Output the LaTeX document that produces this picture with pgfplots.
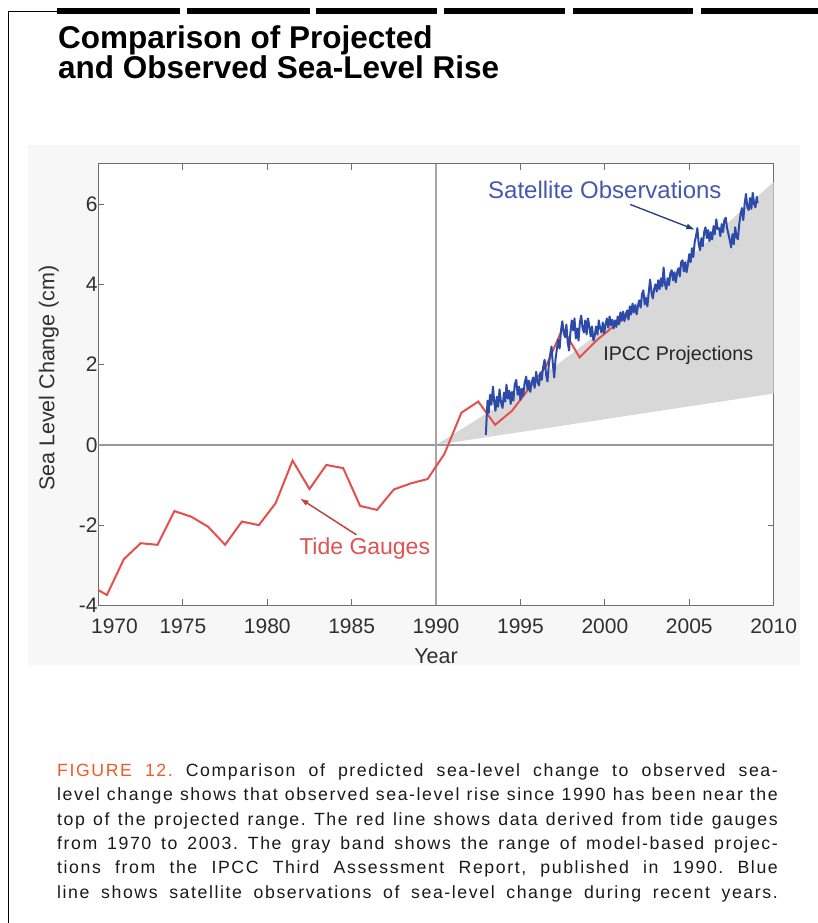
\documentclass[border=0pt]{standalone}
\usepackage{fontspec}
\setmainfont{Liberation Sans}
\newfontfamily\capfont[LetterSpace=9]{Liberation Sans}
\usepackage{pgfplots}
\pgfplotsset{compat=1.18}
\usetikzlibrary{arrows.meta}
\definecolor{tidered}{HTML}{E4504C}
\definecolor{tidetext}{HTML}{E05252}
\definecolor{satblue}{HTML}{2C4AA8}
\definecolor{sattext}{HTML}{4558B0}
\definecolor{satarrow}{HTML}{253C78}
\definecolor{band}{HTML}{D8D8D8}
\definecolor{panel}{HTML}{F7F7F7}
\definecolor{figorange}{HTML}{EF5A2A}
\definecolor{frame}{HTML}{6E6E6E}
\definecolor{ticktext}{HTML}{303030}

\begin{document}
\frenchspacing
\begin{tikzpicture}[x=1pt,y=1pt]
% page size 818 x 923
\path (0,0) rectangle (818,923);
% header bars and page rule
\fill[black] (57,909) rectangle (180,915);
\fill[black] (187,909) rectangle (310,915);
\fill[black] (316,909) rectangle (437,915);
\fill[black] (444,909) rectangle (565,915);
\fill[black] (573,909) rectangle (693,915);
\fill[black] (701,909) rectangle (818,915);
\draw[line width=0.8pt] (8.5,0) -- (8.5,912) -- (57,912);
% light panel behind the chart
\fill[panel] (28,258) rectangle (800,778);
% title
\node[anchor=base west, inner sep=0pt, font=\fontsize{31.5}{31.5}\selectfont\bfseries] at (58,874.5) {Comparison of Projected};
\node[anchor=base west, inner sep=0pt, font=\fontsize{31.5}{31.5}\selectfont\bfseries] at (58,844) {and Observed Sea-Level Rise};

\begin{axis}[
  at={(98.5pt,317.3pt)}, anchor=south west,
  scale only axis, width=675.5pt, height=441.7pt,
  xmin=1970, xmax=2010, ymin=-4, ymax=7,
  xtick={1970,1975,...,2010},
  xticklabels={\hspace*{32pt}1970,1975,1980,1985,1990,1995,2000,2005,2010},
  ytick={-4,-2,0,2,4,6},
  tick align=inside, tick pos=both, ticklabel pos=left,
  major tick length=6pt,
  axis line style={frame, line width=1.1pt},
  every tick/.style={frame, line width=1pt},
  /pgf/number format/assume math mode=true,
  tick label style={font=\fontsize{21}{21}\selectfont, text=ticktext},
  xticklabel style={yshift=-10pt},
  yticklabel style={xshift=2.6pt},
  xlabel={Year}, ylabel={Sea Level Change (cm)},
  every axis x label/.style={at={(axis description cs:0.5,-0.116)}, anchor=center,
    font=\fontsize{21.5}{21.5}\selectfont, text=ticktext},
  every axis y label/.style={at={(axis description cs:-0.0735,0.515)}, anchor=center, rotate=90,
    font=\fontsize{21.5}{21.5}\selectfont, text=ticktext},
  axis background/.style={fill=white},
]
% IPCC projection range
\addplot[fill=band, draw=none] coordinates {
  (1990,0) (1992,0.52) (1994,1.06) (1996,1.64) (1998,2.26) (2000,2.9)
  (2002,3.58) (2004,4.28) (2006,5.04) (2008,5.8) (2010,6.55)
  (2010,1.28) (2000,0.64) (1990,0)
} -- cycle;
% reference lines
\addplot[draw=black!40, line width=1.3pt] coordinates {(1970,0) (2010,0)};
\addplot[draw=black!35, line width=1.3pt] coordinates {(1990,-4) (1990,7)};
% tide gauges
\addplot[tidered, line width=2pt] coordinates {
  (1969.5,-3.50) (1970.5,-3.74) (1971.5,-2.85) (1972.5,-2.45) (1973.5,-2.49)
  (1974.5,-1.65) (1975.5,-1.79) (1976.5,-2.04) (1977.5,-2.49) (1978.5,-1.91)
  (1979.5,-2.00) (1980.5,-1.45) (1981.5,-0.39) (1982.5,-1.10) (1983.5,-0.50)
  (1984.5,-0.58) (1985.5,-1.52) (1986.5,-1.62) (1987.5,-1.11) (1988.5,-0.96)
  (1989.5,-0.85) (1990.5,-0.22) (1991.5,0.80) (1992.5,1.08) (1993.5,0.50)
  (1994.5,0.85) (1995.5,1.40) (1996.5,1.95) (1997.5,2.90) (1998.5,2.18)
  (1999.5,2.60) (2000.5,2.95) (2001.5,3.25)
};
% satellite observations
\addplot[satblue, line width=2pt, line join=round] coordinates {
  (1992.95,0.25) (1993.00,0.70) (1993.05,1.10) (1993.12,0.80) (1993.20,1.25)
  (1993.28,1.00) (1993.37,1.45) (1993.45,1.05) (1993.52,0.85) (1993.60,1.20)
  (1993.68,0.95) (1993.76,1.38) (1993.85,1.05) (1993.94,0.92) (1994.02,1.30)
  (1994.10,1.08) (1994.17,1.50) (1994.25,1.15) (1994.34,1.35) (1994.42,1.02)
  (1994.50,1.32) (1994.58,1.10) (1994.66,1.50) (1994.75,1.62) (1994.83,1.25)
  (1994.92,1.45) (1995.00,1.12) (1995.08,1.40) (1995.16,1.22) (1995.25,1.55)
  (1995.34,1.70) (1995.42,1.38) (1995.50,1.60) (1995.58,1.32) (1995.66,1.55)
  (1995.75,1.68) (1995.84,1.42) (1995.93,1.82) (1996.02,1.55) (1996.10,1.48)
  (1996.18,1.80) (1996.26,1.62) (1996.35,1.95) (1996.43,2.12) (1996.52,1.75)
  (1996.60,1.58) (1996.68,2.00) (1996.76,2.25) (1996.84,2.45) (1996.92,2.00)
  (1997.00,1.68) (1997.08,2.15) (1997.16,2.40) (1997.24,2.62) (1997.32,2.40)
  (1997.40,2.85) (1997.48,3.08) (1997.56,2.80) (1997.64,2.68) (1997.72,3.00)
  (1997.80,2.55) (1997.88,2.35) (1997.96,2.80) (1998.04,3.10) (1998.12,2.85)
  (1998.20,3.15) (1998.28,2.65) (1998.36,2.90) (1998.44,2.60) (1998.52,3.05)
  (1998.60,3.22) (1998.68,2.90) (1998.76,2.80) (1998.84,3.10) (1998.92,2.75)
  (1999.00,3.15) (1999.08,2.95) (1999.16,2.70) (1999.24,2.95) (1999.32,2.60)
  (1999.40,2.72) (1999.48,2.95) (1999.56,2.75) (1999.64,3.10) (1999.72,2.90)
  (1999.80,2.80) (1999.88,3.05) (1999.96,2.78) (2000.04,3.00) (2000.12,3.15)
  (2000.20,2.92) (2000.28,3.20) (2000.36,2.98) (2000.44,3.12) (2000.52,2.90)
  (2000.60,3.10) (2000.68,2.94) (2000.76,3.20) (2000.84,3.00) (2000.92,3.30)
  (2001.00,3.10) (2001.08,3.32) (2001.16,3.08) (2001.24,3.25) (2001.32,3.35)
  (2001.40,3.12) (2001.48,3.45) (2001.56,3.25) (2001.64,3.52) (2001.72,3.30)
  (2001.80,3.48) (2001.88,3.25) (2001.96,3.46) (2002.04,3.60) (2002.12,3.42)
  (2002.20,3.75) (2002.28,3.85) (2002.36,3.50) (2002.44,3.66) (2002.52,3.45)
  (2002.60,3.80) (2002.68,4.12) (2002.76,3.80) (2002.84,3.65) (2002.92,3.88)
  (2003.00,4.00) (2003.08,3.82) (2003.16,4.10) (2003.24,3.88) (2003.32,4.15)
  (2003.40,3.95) (2003.48,4.42) (2003.56,4.00) (2003.64,3.88) (2003.72,4.15)
  (2003.80,3.98) (2003.88,4.28) (2003.96,4.35) (2004.04,4.10) (2004.12,4.30)
  (2004.20,4.05) (2004.28,4.28) (2004.36,4.40) (2004.44,4.20) (2004.52,4.55)
  (2004.60,4.60) (2004.68,4.32) (2004.76,4.55) (2004.84,4.30) (2004.92,4.50)
  (2005.00,4.75) (2005.08,4.55) (2005.16,4.90) (2005.24,4.68) (2005.32,5.05)
  (2005.40,5.20) (2005.48,5.40) (2005.56,5.00) (2005.64,4.85) (2005.72,5.15)
  (2005.80,4.95) (2005.88,5.30) (2005.96,5.42) (2006.04,5.15) (2006.12,5.35)
  (2006.20,5.08) (2006.28,5.30) (2006.36,5.12) (2006.44,5.45) (2006.52,5.25)
  (2006.60,5.62) (2006.68,5.38) (2006.76,5.40) (2006.84,5.20) (2006.92,5.50)
  (2007.00,5.30) (2007.08,5.60) (2007.16,5.66) (2007.24,5.40) (2007.32,5.25)
  (2007.40,5.10) (2007.48,4.92) (2007.56,5.25) (2007.64,5.00) (2007.72,5.42)
  (2007.80,5.18) (2007.88,5.12) (2007.96,5.50) (2008.04,5.75) (2008.12,5.90)
  (2008.20,5.60) (2008.28,6.00) (2008.36,6.25) (2008.44,5.92) (2008.52,5.85)
  (2008.60,6.15) (2008.68,5.88) (2008.76,6.28) (2008.84,6.00) (2008.92,5.92)
  (2009.00,6.18) (2009.05,6.02)
};
% annotations
\node[text=sattext, font=\fontsize{24}{24}\selectfont] at (axis cs:2000.0,6.36) {Satellite Observations};
\draw[satarrow, line width=1.3pt, -{Latex[length=9pt,width=6pt]}] (axis cs:2001.5,5.99) -- (axis cs:2005.35,5.36);
\node[text=black!85, font=\fontsize{19.7}{19.7}\selectfont] at (axis cs:2004.35,2.24) {IPCC Projections};
\node[text=tidetext, font=\fontsize{23}{23}\selectfont] at (axis cs:1985.77,-2.59) {Tide Gauges};
\draw[tidered!85!black, line width=1.5pt, -{Latex[length=9pt,width=6pt]}] (axis cs:1985.28,-2.24) -- (axis cs:1981.92,-1.33);
\end{axis}

% caption
\begin{scope}[every node/.style={anchor=base west, inner sep=0pt, text=black!90, font=\capfont\fontsize{17.7}{24}\selectfont}]
\node at (57,146) {\makebox[721pt][s]{{\color{figorange}FIGURE 12.} Comparison of predicted sea-level change to observed sea-}};
\node at (57,121.7) {\makebox[721pt][s]{level change shows that observed sea-level rise since 1990 has been near the}};
\node at (57,97.4) {\makebox[721pt][s]{top of the projected range. The red line shows data derived from tide gauges}};
\node at (57,73.1) {\makebox[721pt][s]{from 1970 to 2003. The gray band shows the range of model-based projec-}};
\node at (57,48.8) {\makebox[721pt][s]{tions from the IPCC Third Assessment Report, published in 1990. Blue}};
\node at (57,24.5) {\makebox[721pt][s]{line shows satellite observations of sea-level change during recent years.}};
\end{scope}
\end{tikzpicture}
\end{document}
